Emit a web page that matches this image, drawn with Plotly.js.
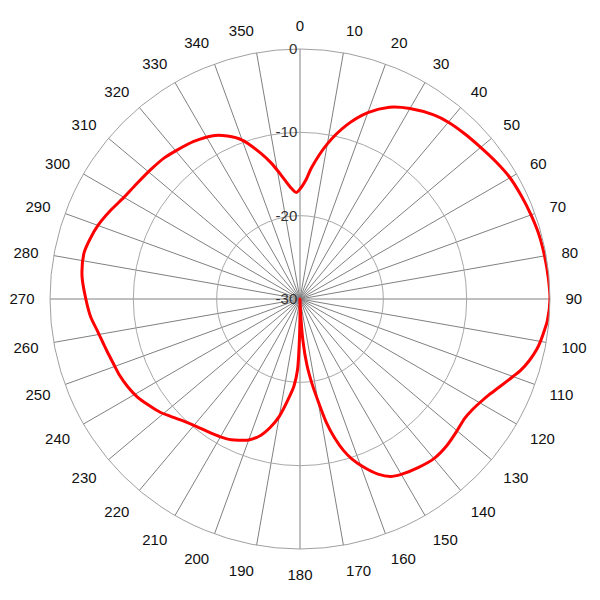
<!DOCTYPE html>
<html>
<head>
<meta charset="utf-8">
<script src="https://cdn.plot.ly/plotly-3.0.1.min.js"></script>
<style>html,body{margin:0;padding:0;background:#fff;}#chart{width:600px;height:600px;}</style>
</head>
<body>
<div id="chart"></div>
<script>
var angles = [0,3,5,10,15,20,25,30,36,40,45,50,55,60,65,70,75,80,85,90,95,97,100,102,105,108,110,114,117,120,123,126,130,135,140,145,150,153,156,159,162,164,166,168,170,172,174,176,178,179,180,181,182,184,186,190,193,196,200,203,206,210,215,219,224,228,231,235,239,243,247,251,255,261,265,270,276,282,286,290,295,300,305,311,316,320,326,332,336,340,345,348,351,355,358,360];
var gainDb = [-16.8,-15.6,-14.2,-11.1,-8.4,-6.2,-4.6,-3.6,-2.7,-2.3,-2.0,-1.7,-1.3,-0.9,-0.7,-0.5,-0.3,-0.2,-0.1,0,-0.2,-0.4,-0.7,-0.95,-1.5,-2.2,-2.8,-3.9,-4.6,-5.1,-5.45,-5.6,-5.4,-5.1,-5.0,-5.3,-5.7,-6.1,-7.0,-8.3,-9.8,-11.1,-12.8,-14.9,-17.6,-19.8,-22,-25,-29,-30,-28,-24.5,-21.5,-19.5,-18.3,-15.7,-14.2,-13.0,-12.0,-11.6,-11.2,-10.9,-10.6,-10.3,-9.7,-9.0,-8.4,-7.8,-7.2,-6.8,-6.5,-6.3,-6.0,-5.4,-4.8,-4.3,-3.7,-3.5,-3.8,-4.2,-4.9,-5.6,-6.0,-6.3,-6.5,-6.8,-7.2,-7.8,-8.6,-9.7,-11.9,-13.3,-14.8,-16.5,-17.2,-16.8];
var angleTicks = [0,10,20,30,40,50,60,70,80,90,100,110,120,130,140,150,160,170,180,190,200,210,220,230,240,250,260,270,280,290,300,310,320,330,340,350];
var radialTicks = [-30,-20,-10,0];

var trace = {
  type: 'scatterpolar',
  mode: 'lines',
  theta: angles,
  r: gainDb,
  line: {color: '#ff0000', width: 3, shape: 'spline', smoothing: 0.8},
  hoverinfo: 'skip'
};

var layout = {
  width: 600, height: 600,
  margin: {l: 50, r: 50, t: 49, b: 51},
  paper_bgcolor: '#ffffff',
  showlegend: false,
  font: {family: 'Arial, "Liberation Sans", sans-serif', size: 15, color: '#222'},
  polar: {
    bgcolor: '#ffffff',
    domain: {x: [0, 1], y: [0, 1]},
    angularaxis: {
      rotation: 90,
      direction: 'clockwise',
      tickmode: 'array',
      tickvals: angleTicks,
      ticktext: angleTicks.map(String),
      ticks: 'outside',
      ticklen: 12,
      tickcolor: 'rgba(0,0,0,0)',
      tickfont: {size: 15, color: '#111'},
      showgrid: true,
      gridcolor: '#808080',
      gridwidth: 1,
      showline: true,
      linecolor: '#a0a0a0',
      linewidth: 1
    },
    radialaxis: {
      range: [-30, 0],
      angle: 90,
      tickangle: 90,
      side: 'counterclockwise',
      tickmode: 'array',
      tickvals: radialTicks,
      ticktext: radialTicks.map(String),
      ticks: '',
      tickfont: {size: 15, color: '#333'},
      showgrid: true,
      gridcolor: '#a8a8a8',
      gridwidth: 1,
      showline: false
    }
  }
};

Plotly.newPlot('chart', [trace], layout, {displayModeBar: false, staticPlot: true});
</script>
</body>
</html>
